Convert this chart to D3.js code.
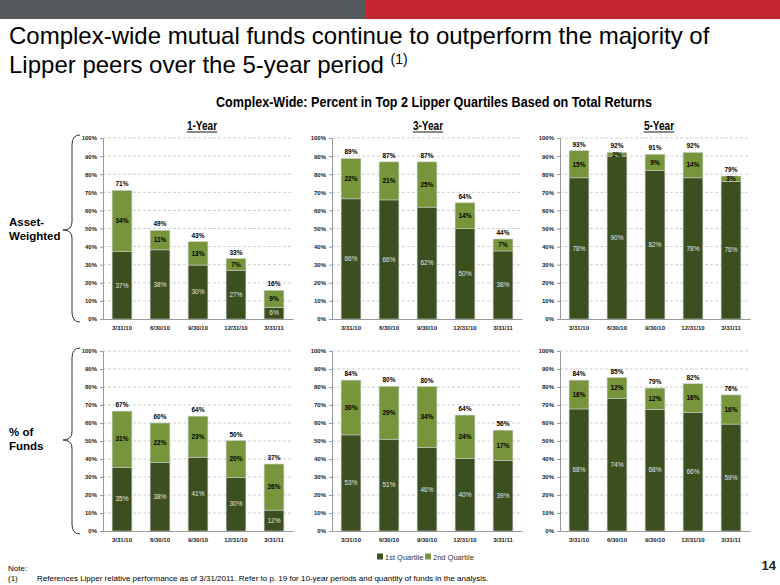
<!DOCTYPE html>
<html>
<head>
<meta charset="utf-8">
<script src="https://cdn.jsdelivr.net/npm/d3@7"></script>
<style>
  body { margin: 0; background: #fff; }
  svg { display: block; font-family: Arial, "Liberation Sans", sans-serif; }
  .tick text { font-size: 6px; font-weight: bold; fill: #222; }
  .grid line { stroke: #cfcfcf; stroke-dasharray: 3,2; }
</style>
</head>
<body>
<svg width="780" height="585"></svg>
<script>
// categories / tick labels
var dates = ["3/31/10", "6/30/10", "9/30/10", "12/31/10", "3/31/11"];
var yTicks = [0, 10, 20, 30, 40, 50, 60, 70, 80, 90, 100];
var periods = ["1-Year", "3-Year", "5-Year"];
var rows = ["Asset-Weighted", "% of Funds"];

// Asset-weighted: 1st quartile / 2nd quartile (%)
var aw1yFirst  = [37.2, 38.2, 29.8, 26.8, 6.4];
var aw1ySecond = [33.8, 10.8, 12.9, 6.6, 9.4];
var aw3yFirst  = [66.4, 65.8, 61.8, 50.0, 37.6];
var aw3ySecond = [22.3, 21.0, 25.0, 14.2, 6.6];
var aw5yFirst  = [78, 90, 82, 78, 76];
var aw5ySecond = [15, 2, 9, 14, 3];

// % of funds: 1st quartile / 2nd quartile (%)
var pf1yFirst  = [35.4, 38.0, 41.0, 29.8, 11.6];
var pf1ySecond = [31.2, 22.0, 22.8, 20.4, 25.6];
var pf3yFirst  = [53.4, 51.0, 46.4, 40.4, 39.2];
var pf3ySecond = [30.4, 29.4, 33.8, 24.0, 16.8];
var pf5yFirst  = [67.8, 73.6, 67.6, 65.8, 59.4];
var pf5ySecond = [16.0, 11.6, 11.8, 16.0, 16.2];

var panels = [
  [aw1yFirst, aw1ySecond], [aw3yFirst, aw3ySecond], [aw5yFirst, aw5ySecond],
  [pf1yFirst, pf1ySecond], [pf3yFirst, pf3ySecond], [pf5yFirst, pf5ySecond]
];

var colFirst = "#3c4f1f", colSecond = "#77953b";

var svg = d3.select("svg");

// top banner
svg.append("rect").attr("x", 0).attr("y", 0).attr("width", 366).attr("height", 19).attr("fill", "#55595d");
svg.append("rect").attr("x", 366).attr("y", 0).attr("width", 414).attr("height", 19).attr("fill", "#c5252f");

// title
var title = svg.append("text").attr("x", 9).attr("font-size", 24).attr("fill", "#000");
title.append("tspan").attr("x", 9).attr("y", 44).text("Complex-wide mutual funds continue to outperform the majority of");
title.append("tspan").attr("x", 9).attr("y", 73).text("Lipper peers over the 5-year period ");
title.append("tspan").attr("font-size", 14).attr("dy", -9).text("(1)");

// no narrow font installed, so squeeze horizontally
svg.append("g").attr("transform", "translate(434,107) scale(0.84,1)")
  .append("text")
    .attr("text-anchor", "middle")
    .attr("font-weight", "bold").attr("font-size", 15)
    .text("Complex-Wide: Percent in Top 2 Lipper Quartiles Based on Total Returns");

var colX = [103, 332, 560],
    rowY = [138, 351],
    pw = 190,
    ph = [181, 180];

periods.forEach(function(p, i) {
  var cx = colX[i] + [99, 96, 99][i];
  var hg = svg.append("g").attr("transform", "translate(" + cx + ",130) scale(0.84,1)");
  var t = hg.append("text")
      .attr("text-anchor", "middle")
      .attr("font-weight", "bold").attr("font-size", 12)
      .text(p);
  var w = t.node().getComputedTextLength();
  hg.append("line").attr("x1", -w / 2).attr("x2", w / 2)
      .attr("y1", 2).attr("y2", 2).attr("stroke", "#000").attr("stroke-width", 1);
});

// row labels with braces
rows.forEach(function(r, i) {
  var words = i === 0 ? ["Asset-", "Weighted"] : ["% of", "Funds"];
  var top = rowY[i] - 3, bot = rowY[i] + ph[i] + 3, mid = i === 0 ? 230 : 440;
  var t = svg.append("text").attr("font-weight", "bold").attr("font-size", 11.5).attr("fill", "#000");
  t.append("tspan").attr("x", 9).attr("y", mid - 4).text(words[0]);
  t.append("tspan").attr("x", 9).attr("y", mid + 10).text(words[1]);
  var bx = 72;
  var path = d3.path();
  path.moveTo(bx + 8, top);
  path.quadraticCurveTo(bx, top, bx, top + 10);
  path.lineTo(bx, mid - 8);
  path.quadraticCurveTo(bx, mid, bx - 9, mid);
  path.quadraticCurveTo(bx, mid, bx, mid + 8);
  path.lineTo(bx, bot - 10);
  path.quadraticCurveTo(bx, bot, bx + 8, bot);
  svg.append("path").attr("d", path.toString()).attr("fill", "none")
      .attr("stroke", "#333").attr("stroke-width", 1);
});

panels.forEach(function(d, k) {
  var col = k % 3, row = Math.floor(k / 3);
  var h = ph[row];
  var g = svg.append("g").attr("transform", "translate(" + colX[col] + "," + rowY[row] + ")");

  var x = d3.scaleBand().domain(dates).range([0, pw]).paddingInner(0.48).paddingOuter(0.24);
  var y = d3.scaleLinear().domain([0, 100]).range([h, 0]);

  g.append("g").attr("class", "grid")
    .selectAll("line").data(yTicks.slice(1)).enter().append("line")
      .attr("x1", 0).attr("x2", pw)
      .attr("y1", function(v) { return y(v); }).attr("y2", function(v) { return y(v); });

  var rowsData = dates.map(function(dt, i) {
    return { date: dt, a: d[0][i], b: d[1][i] };
  });

  var bars = g.append("g").selectAll("g").data(rowsData).enter().append("g");

  bars.append("rect")
      .attr("x", function(r) { return x(r.date); })
      .attr("y", function(r) { return y(r.a); })
      .attr("width", x.bandwidth())
      .attr("height", function(r) { return h - y(r.a); })
      .attr("fill", colFirst)
      .attr("stroke", "#c8c8c8").attr("stroke-width", 0.6);

  bars.append("rect")
      .attr("x", function(r) { return x(r.date); })
      .attr("y", function(r) { return y(r.a + r.b); })
      .attr("width", x.bandwidth())
      .attr("height", function(r) { return y(r.a) - y(r.a + r.b); })
      .attr("fill", colSecond)
      .attr("stroke", "#c8c8c8").attr("stroke-width", 0.6);

  bars.append("text")
      .attr("x", function(r) { return x(r.date) + x.bandwidth() / 2; })
      .attr("y", function(r) { return y(r.a / 2); })
      .attr("dy", "0.35em")
      .attr("text-anchor", "middle")
      .attr("font-size", 6.5).attr("fill", "#e4e4e4")
      .text(function(r) { return Math.round(r.a) + "%"; });

  bars.append("text")
      .attr("x", function(r) { return x(r.date) + x.bandwidth() / 2; })
      .attr("y", function(r) { return y(r.a + r.b / 2); })
      .attr("dy", "0.35em")
      .attr("text-anchor", "middle")
      .attr("font-size", 6.5).attr("font-weight", "bold").attr("fill", "#000")
      .text(function(r) { return Math.round(r.b) + "%"; });

  bars.append("text")
      .attr("x", function(r) { return x(r.date) + x.bandwidth() / 2; })
      .attr("y", function(r) { return y(r.a + r.b) - 4; })
      .attr("text-anchor", "middle")
      .attr("font-size", 6.5).attr("font-weight", "bold").attr("fill", "#000")
      .text(function(r) { return Math.round(r.a + r.b) + "%"; });

  var yAxis = g.append("g")
      .call(d3.axisLeft(y).tickValues(yTicks).tickSize(3).tickPadding(3)
        .tickFormat(function(v) { return v + "%"; }));
  yAxis.select(".domain").attr("stroke", "#999");
  yAxis.selectAll(".tick line").attr("stroke", "#999");

  var xAxis = g.append("g")
      .attr("transform", "translate(0," + h + ")")
      .call(d3.axisBottom(x).tickSize(0).tickPadding(7));
  xAxis.select(".domain").attr("stroke", "#999");
});

// legend
var legend = svg.append("g").attr("transform", "translate(377,557)");
[["1st Quartile", colFirst], ["2nd Quartile", colSecond]].forEach(function(l, i) {
  var lx = i * 48;
  legend.append("rect").attr("x", lx).attr("y", -3.5).attr("width", 6).attr("height", 6).attr("fill", l[1]);
  legend.append("text").attr("x", lx + 8).attr("y", 0).attr("dy", "0.35em")
      .attr("font-size", 7.5).attr("fill", "#333").text(l[0]);
});

// footnote
svg.append("text").attr("x", 8).attr("y", 571).attr("font-size", 8).attr("fill", "#000").text("Note:");
svg.append("text").attr("x", 8).attr("y", 581).attr("font-size", 8).attr("fill", "#000").text("(1)");
svg.append("text").attr("x", 37).attr("y", 581).attr("font-size", 8).attr("fill", "#000")
    .text("References Lipper relative performance as of 3/31/2011. Refer to p. 19 for 10-year periods and quantity of funds in the analysis.");
svg.append("text").attr("x", 776).attr("y", 570).attr("text-anchor", "end")
    .attr("font-size", 13).attr("font-weight", "bold").attr("fill", "#222").text("14");
</script>
</body>
</html>
